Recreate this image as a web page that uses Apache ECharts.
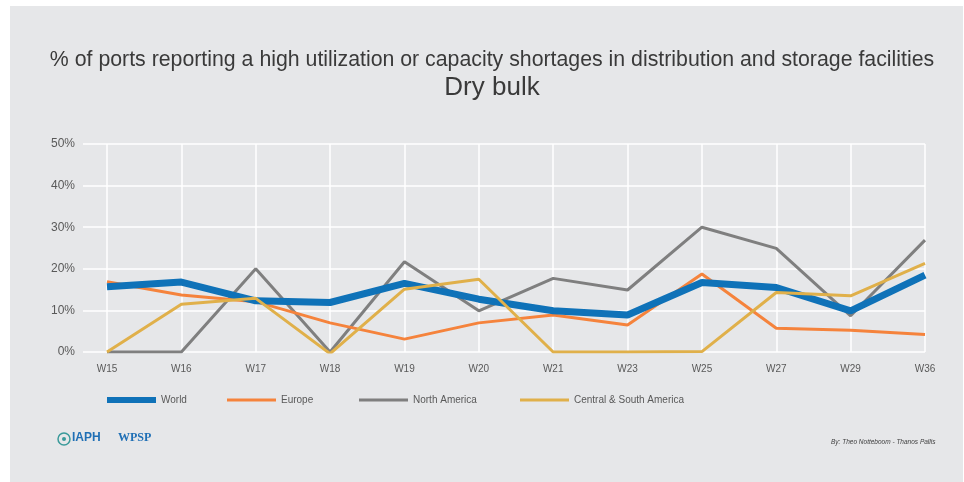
<!DOCTYPE html>
<html>
<head>
<meta charset="utf-8">
<script src="https://cdn.jsdelivr.net/npm/echarts@6/dist/echarts.min.js"></script>
<style>
html,body{margin:0;padding:0;background:#fff;}
#c{width:964px;height:482px;}
</style>
</head>
<body>
<div id="c"></div>
<script>
const categories = ['W15','W16','W17','W18','W19','W20','W21','W23','W25','W27','W29','W36'];
const world = [15.7, 16.8, 12.3, 11.9, 16.5, 12.7, 9.9, 8.9, 16.7, 15.5, 9.9, 18.5];
const europe = [16.9, 13.7, 12.1, 7.0, 3.1, 7.0, 8.9, 6.5, 18.75, 5.7, 5.2, 4.2];
const northAmerica = [0, 0, 20.0, 0, 21.7, 9.9, 17.7, 14.9, 30.0, 24.9, 8.7, 26.9];
const centralSouthAmerica = [0, 11.5, 12.9, -0.4, 15.1, 17.5, 0, 0, 0.1, 14.3, 13.5, 21.3];
const yTicks = [0, 10, 20, 30, 40, 50];
const titleText = '% of ports reporting a high utilization or capacity shortages in distribution and storage facilities';
const subtitleText = 'Dry bulk';

const chart = echarts.init(document.getElementById('c'), null, {renderer:'canvas'});
const labelColor = '#595959';
const font = 'Liberation Sans, Arial, sans-serif';

function legendAt(name, left, h) {
  return {
    show: true, data: [{name: name, icon: 'rect'}], left: left, top: 390,
    itemWidth: 49, itemHeight: h, selectedMode: false,
    textStyle: {color: labelColor, fontSize: 10, fontFamily: font}
  };
}

chart.setOption({
  backgroundColor: '#ffffff',
  animation: false,
  graphic: [
    {type: 'rect', left: 10, top: 6, z: -10, shape: {width: 953, height: 476}, style: {fill: '#e6e7e9'}},
    {type: 'text', x: 492, y: 60, style: {text: titleText, fill: '#3a3a3a', textAlign: 'center', textVerticalAlign: 'middle', font: '21.3px Liberation Sans, Arial, sans-serif'}},
    {type: 'text', x: 492, y: 88, style: {text: subtitleText, fill: '#3a3a3a', textAlign: 'center', textVerticalAlign: 'middle', font: '26px Liberation Sans, Arial, sans-serif'}},
    {type: 'text', left: 831, top: 439, style: {text: 'By: Theo Notteboom - Thanos Pallis', fill: '#404040', font: 'italic 6.5px Liberation Sans, Arial, sans-serif'}},
    {type: 'circle', shape: {cx: 64, cy: 439, r: 6}, style: {fill: 'none', stroke: '#3a9a9a', lineWidth: 1.5}},
    {type: 'circle', shape: {cx: 64, cy: 439, r: 2}, style: {fill: '#3a9a9a'}},
    {type: 'text', left: 72, top: 432, style: {text: 'IAPH', fill: '#1f6fb5', font: 'bold 12px Liberation Sans, Arial, sans-serif'}},
    {type: 'text', left: 118, top: 432, style: {text: 'WPSP', fill: '#1f6fb5', font: 'bold 12px Liberation Serif, Times New Roman, serif'}}
  ],
  legend: [
    legendAt('World', 102, 6),
    legendAt('Europe', 222, 3),
    legendAt('North America', 354, 3),
    legendAt('Central & South America', 515, 3)
  ],
  grid: [
    {left: 107, right: 39, top: 144, bottom: 130},
    {left: 83, right: 39, top: 144, bottom: 130}
  ],
  xAxis: [
    {type: 'category', gridIndex: 0, data: categories, boundaryGap: false,
     axisLine: {show: false}, axisTick: {show: false},
     axisLabel: {color: labelColor, fontSize: 10, fontFamily: font, margin: 12},
     splitLine: {show: true, lineStyle: {color: '#ffffff', width: 1.5}}},
    {type: 'value', gridIndex: 1, show: false, min: 0, max: 1}
  ],
  yAxis: [
    {type: 'value', gridIndex: 0, min: 0, max: 50, interval: 10, show: false, splitLine: {show: false}},
    {type: 'value', gridIndex: 1, min: 0, max: 50, interval: 10,
     axisLine: {show: false}, axisTick: {show: false},
     axisLabel: {color: labelColor, fontSize: 12, fontFamily: font, margin: 8, formatter: v => yTicks.includes(v) ? v + '%' : ''},
     splitLine: {show: true, lineStyle: {color: '#ffffff', width: 1.5}}}
  ],
  series: [
    {name: 'World', type: 'line', data: world, xAxisIndex: 0, yAxisIndex: 0, symbol: 'none', z: 5,
     lineStyle: {color: '#0f72b8', width: 7}, itemStyle: {color: '#0f72b8'}},
    {name: 'Europe', type: 'line', data: europe, symbol: 'none', z: 4,
     lineStyle: {color: '#f5833c', width: 3}, itemStyle: {color: '#f5833c'}},
    {name: 'North America', type: 'line', data: northAmerica, symbol: 'none', z: 3,
     lineStyle: {color: '#7f7f7f', width: 3}, itemStyle: {color: '#7f7f7f'}},
    {name: 'Central & South America', type: 'line', data: centralSouthAmerica, symbol: 'none', z: 6,
     lineStyle: {color: '#e0b04a', width: 3}, itemStyle: {color: '#e0b04a'}}
  ]
});
</script>
</body>
</html>
